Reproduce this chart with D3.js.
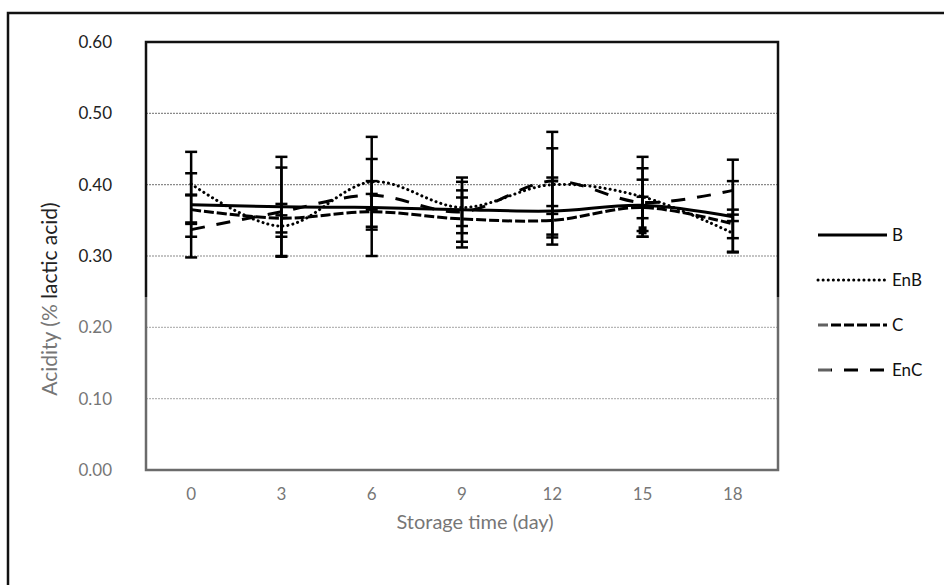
<!DOCTYPE html>
<html>
<head>
<meta charset="utf-8">
<script src="https://cdn.jsdelivr.net/npm/d3@7"></script>
<style>
  html, body { margin: 0; padding: 0; background: #fff; }
  svg { display: block; }
  text { font-family: Lato, "Open Sans", sans-serif; }
</style>
</head>
<body>
<svg id="chart" width="944" height="585"></svg>
<script>
// Storage days (x categories)
const days = [0, 3, 6, 9, 12, 15, 18];

// Acidity (% lactic acid) per treatment
const seriesB   = [0.372, 0.369, 0.368, 0.365, 0.363, 0.371, 0.355];
const seriesEnB = [0.401, 0.342, 0.404, 0.368, 0.400, 0.383, 0.332];
const seriesC   = [0.365, 0.353, 0.362, 0.352, 0.350, 0.368, 0.345];
const seriesEnC = [0.337, 0.362, 0.385, 0.362, 0.405, 0.375, 0.392];

// Standard deviations (error bars)
const errB   = [0.074, 0.070, 0.068, 0.045, 0.047, 0.036, 0.050];
const errEnB = [0.015, 0.015, 0.063, 0.036, 0.074, 0.056, 0.026];
const errC   = [0.020, 0.020, 0.025, 0.040, 0.020, 0.015, 0.020];
const errEnC = [0.010, 0.062, 0.020, 0.020, 0.046, 0.048, 0.043];

// Stray marker plotted at day 15
const markerDays = [15];
const markerValues = [0.336];

const yTicks = [0, 0.1, 0.2, 0.3, 0.4, 0.5, 0.6];

const svg = d3.select("#chart");
const W = 944, H = 585;
const plot = { left: 146, right: 778, top: 42, bottom: 470 };

const x = d3.scaleBand().domain(days).range([plot.left, plot.right]);
const xc = d => x(d) + x.bandwidth() / 2;
const y = d3.scaleLinear().domain([0, 0.6]).range([plot.bottom, plot.top]);

// Outer chart frame
svg.append("rect")
  .attr("x", 8).attr("y", 13)
  .attr("width", 940).attr("height", 600)
  .attr("fill", "none").attr("stroke", "#111").attr("stroke-width", 2.5);

// Horizontal gridlines
svg.append("g").selectAll("line")
  .data(yTicks.filter(t => t > 0 && t < 0.6))
  .join("line")
  .attr("x1", plot.left).attr("x2", plot.right)
  .attr("y1", d => y(d)).attr("y2", d => y(d))
  .attr("stroke", "#8a8a8a").attr("stroke-width", 1.2)
  .attr("stroke-dasharray", "2,1");

// Y axis labels
const yAxis = svg.append("g")
  .attr("transform", `translate(${plot.left},0)`)
  .call(d3.axisLeft(y).tickValues(yTicks).tickSize(0).tickPadding(34).tickFormat(d3.format(".2f")));
yAxis.select(".domain").remove();
yAxis.selectAll("text").attr("font-size", 17).attr("fill", "#222")
  .style("font-family", "Lato, sans-serif");

// X axis labels
const xAxis = svg.append("g")
  .attr("transform", `translate(0,${plot.bottom})`)
  .call(d3.axisBottom(x).tickSize(0).tickPadding(18));
xAxis.select(".domain").remove();
xAxis.selectAll("text").attr("font-size", 17).attr("fill", "#222")
  .style("font-family", "Lato, sans-serif");

// Axis titles
svg.append("text")
  .attr("transform", "translate(57,299) rotate(-90)")
  .attr("text-anchor", "middle").attr("font-size", 21).attr("fill", "#222")
  .text("Acidity (% lactic acid)");
svg.append("text")
  .attr("x", 475).attr("y", 529)
  .attr("text-anchor", "middle").attr("font-size", 20).attr("fill", "#222")
  .text("Storage time (day)");

// Series definitions
const series = [
  { name: "B",   values: seriesB,   err: errB,   dash: null,    cap: "butt" },
  { name: "EnB", values: seriesEnB, err: errEnB, dash: "0.1,5", cap: "round" },
  { name: "C",   values: seriesC,   err: errC,   dash: "10,3",  cap: "butt" },
  { name: "EnC", values: seriesEnC, err: errEnC, dash: "14,12", cap: "butt" }
];

const line = d3.line()
  .x((d, i) => xc(days[i]))
  .y(d => y(d))
  .curve(d3.curveCatmullRom.alpha(0.5));

const lines = svg.append("g");
series.forEach(s => {
  lines.append("path")
    .datum(s.values)
    .attr("d", line)
    .attr("fill", "none")
    .attr("stroke", "#000")
    .attr("stroke-width", 3)
    .attr("stroke-linecap", s.cap)
    .attr("stroke-dasharray", s.dash);
});

// Error bars
const eb = svg.append("g").attr("stroke", "#000");
series.forEach(s => {
  s.values.forEach((v, i) => {
    const cx = xc(days[i]);
    const hi = v + s.err[i], lo = v - s.err[i];
    eb.append("line").attr("x1", cx).attr("x2", cx)
      .attr("y1", y(hi)).attr("y2", y(lo)).attr("stroke-width", 2.5);
    [hi, lo].forEach(t => {
      eb.append("line").attr("x1", cx - 6).attr("x2", cx + 6)
        .attr("y1", y(t)).attr("y2", y(t)).attr("stroke-width", 2.5);
    });
  });
});

// Square marker
svg.append("g").selectAll("rect")
  .data(markerDays.map((d, i) => ({ d, v: markerValues[i] })))
  .join("rect")
  .attr("x", p => xc(p.d) - 4).attr("y", p => y(p.v) - 4)
  .attr("width", 8).attr("height", 8).attr("fill", "#000");

// Plot area border
svg.append("rect")
  .attr("x", plot.left).attr("y", plot.top)
  .attr("width", plot.right - plot.left).attr("height", plot.bottom - plot.top)
  .attr("fill", "none").attr("stroke", "#111").attr("stroke-width", 2.5);

// Legend
const legend = svg.append("g");
series.forEach((s, i) => {
  const ly = 235 + i * 45;
  legend.append("line")
    .attr("x1", 818).attr("x2", 887).attr("y1", ly).attr("y2", ly)
    .attr("stroke", "#000").attr("stroke-width", 3)
    .attr("stroke-linecap", s.cap)
    .attr("stroke-dasharray", s.dash);
  legend.append("text")
    .attr("x", 892).attr("y", ly + 6)
    .attr("font-size", 17).attr("fill", "#111")
    .text(s.name);
});

// Lighter lower band of the page
svg.append("rect")
  .attr("x", 11).attr("y", 297)
  .attr("width", 820).attr("height", H - 297)
  .attr("fill", "#fff").attr("opacity", 0.38);
</script>
</body>
</html>
